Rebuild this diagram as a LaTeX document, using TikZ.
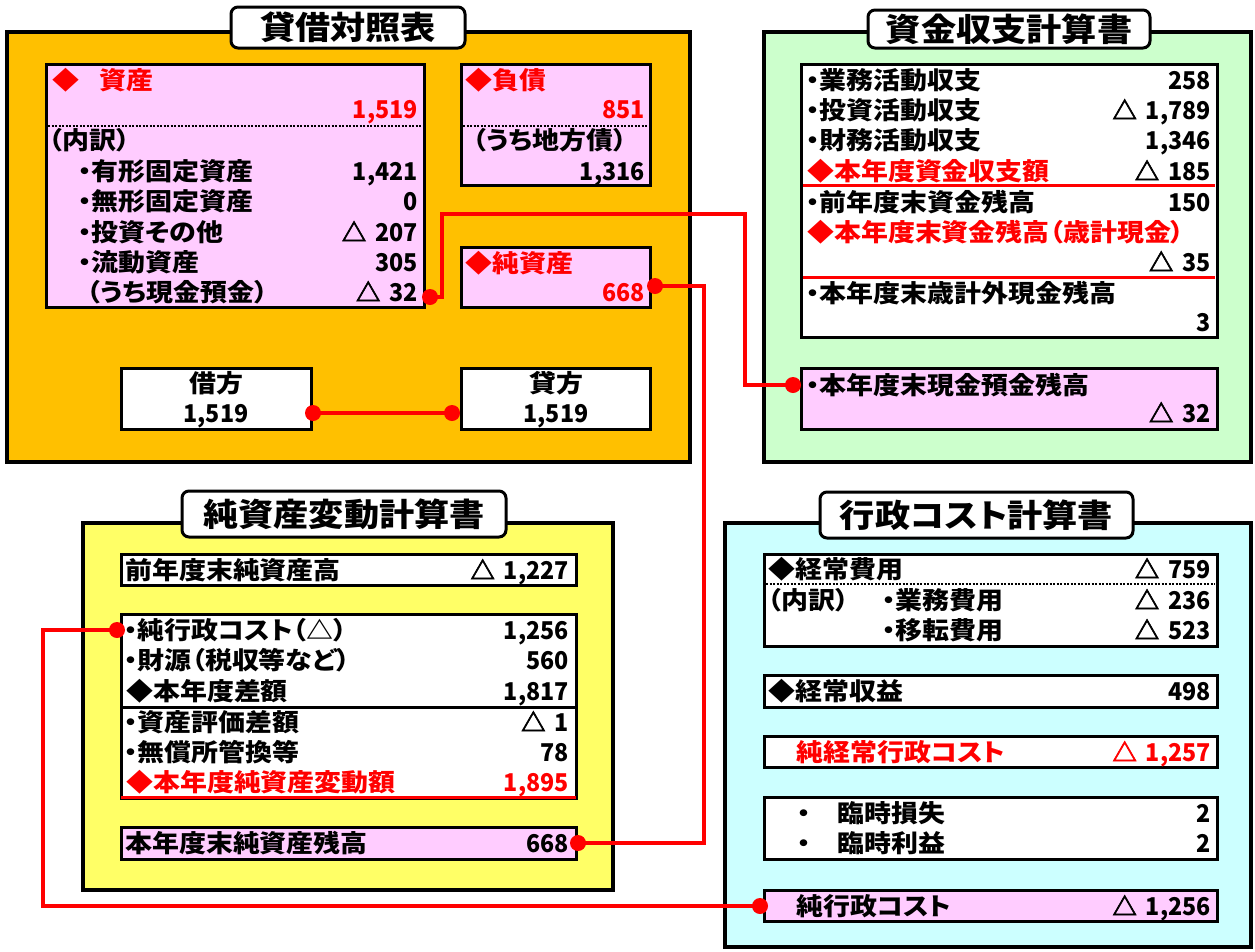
\documentclass[tikz,border=0pt]{standalone}
\usepackage{fontspec}
\newfontfamily\jp{Noto Sans CJK JP}[FakeStretch=1.1, RawFeature=+palt]
\newfontfamily\numf{Noto Sans CJK JP}[FakeStretch=0.95]
\newfontfamily\trifont{Noto Sans CJK JP}[FakeBold=2.5]
\newcommand{\dtri}{{\trifont △}\hspace{9pt}}
\definecolor{bsfill}{HTML}{FFC000}
\definecolor{pinkf}{HTML}{FFCCFF}
\definecolor{greenf}{HTML}{CCFFCC}
\definecolor{yellowf}{HTML}{FFFF66}
\definecolor{cyanf}{HTML}{CCFFFF}
\definecolor{redc}{HTML}{FF0000}
\tikzset{
 panel/.style={draw=black, line width=4.5pt, anchor=north west, inner sep=0pt, outer sep=0pt},
 box/.style={draw=black, line width=3pt, fill=white, anchor=north west, inner sep=0pt, outer sep=0pt},
 ttl/.style={draw=black, line width=3pt, fill=white, rounded corners=7pt, inner sep=0pt, font=\jp\bfseries\fontsize{32}{32}\selectfont},
 t/.style={inner sep=0pt, text height=21.6pt, text depth=2.9pt, font=\jp\bfseries\fontsize{24.5}{24.5}\selectfont},
 tn/.style={inner sep=0pt, text height=21.6pt, text depth=2.9pt, font=\numf\bfseries\fontsize{24.5}{24.5}\selectfont},
 tl/.style={t, anchor=west}, tr/.style={tn, anchor=east}, tc/.style={t, anchor=center}, tcn/.style={tn, anchor=center},
 rt/.style={text=redc},
 conn/.style={draw=redc, line width=4pt},
 dotline/.style={draw=black, line width=2pt, dash pattern=on 2pt off 1.5pt},
 redline/.style={draw=redc, line width=3pt},
 sepline/.style={draw=black, line width=3pt},
 dot/.style={circle, fill=redc, inner sep=0pt, minimum size=16pt},
}
\begin{document}
\begin{tikzpicture}[x=1pt, y=-1pt]
\useasboundingbox (0,0) rectangle (1255,951);
\fill[white] (0,0) rectangle (1255,951);
% ---------- panels ----------
\node[panel, fill=bsfill, minimum width=683, minimum height=430] (bs) at (7,32) {};
\node[panel, fill=greenf, minimum width=487, minimum height=430] (cf) at (764,32) {};
\node[panel, fill=yellowf, minimum width=530, minimum height=367] (na) at (83,523) {};
\node[panel, fill=cyanf, minimum width=526, minimum height=424] (pl) at (725,523) {};
% ---------- titles ----------
\node[ttl, minimum width=234, minimum height=41] (bst) at (348,27.5) {貸借対照表};
\node[ttl, minimum width=282, minimum height=38] (cft) at (1009,29) {資金収支計算書};
\node[ttl, minimum width=324, minimum height=46] (nat) at (344,514) {純資産変動計算書};
\node[ttl, minimum width=313, minimum height=46] (plt) at (976.5,515) {行政コスト計算書};
% ---------- BS boxes ----------
\node[box, fill=pinkf, minimum width=378, minimum height=243] (asset) at (46,64) {};
\node[box, fill=pinkf, minimum width=189, minimum height=121] (liab) at (461,64) {};
\node[box, fill=pinkf, minimum width=189, minimum height=60] (neta) at (461,247) {};
\node[box, minimum width=190, minimum height=61] (debit) at (121,368) {};
\node[box, minimum width=189, minimum height=61] (credit) at (461,368) {};
\draw[dotline] (48,126) -- (422,126);
\draw[dotline] (463,126) -- (648,126);
\node[tl, rt] (a1) at (52,80) {◆\hspace{20pt}資産};
\node[tr, rt] (a2) at (418,109) {1,519};
\node[tl] (a3) at (49,140) {（内訳）};
\node[tl] (a4) at (78,171) {・有形固定資産};
\node[tr] (a4v) at (418,171) {1,421};
\node[tl] (a5) at (78,201) {・無形固定資産};
\node[tr] (a5v) at (418,201) {0};
\node[tl] (a6) at (78,232) {・投資その他};
\node[tr] (a6v) at (418,232) {\dtri 207};
\node[tl] (a7) at (78,262) {・流動資産};
\node[tr] (a7v) at (418,262) {305};
\node[tl] (a8) at (87,292) {（うち現金預金）};
\node[tr] (a8v) at (418,292) {\dtri 32};
\node[tl, rt] (l1) at (465,80) {◆負債};
\node[tr, rt] (l2) at (645,109) {851};
\node[tl] (l3) at (473,140) {（うち地方債）};
\node[tr] (l4) at (645,171) {1,316};
\node[tl, rt] (n1) at (465,263) {◆純資産};
\node[tr, rt] (n2) at (645,292) {668};
\node[tc] (k1) at (216,383) {借方};
\node[tcn] (k2) at (216,413) {1,519};
\node[tc] (c1) at (556,383) {貸方};
\node[tcn] (c2) at (556,413) {1,519};
% ---------- CF boxes ----------
\node[box, minimum width=416, minimum height=273] (cfmain) at (801,64) {};
\node[box, fill=pinkf, minimum width=416, minimum height=61] (cfcash) at (801,368) {};
\draw[redline] (803,185) -- (1215,185);
\draw[redline] (803,277) -- (1215,277);
\node[tl] (f1) at (806,80) {・業務活動収支};
\node[tr] (f1v) at (1211,80) {258};
\node[tl] (f2) at (806,110) {・投資活動収支};
\node[tr] (f2v) at (1211,110) {\dtri 1,789};
\node[tl] (f3) at (806,140) {・財務活動収支};
\node[tr] (f3v) at (1211,140) {1,346};
\node[tl, rt] (f4) at (807,171) {◆本年度資金収支額};
\node[tr] (f4v) at (1211,171) {\dtri 185};
\node[tl] (f5) at (806,202) {・前年度末資金残高};
\node[tr] (f5v) at (1211,202) {150};
\node[tl, rt] (f6) at (807,232) {◆本年度末資金残高（歳計現金）};
\node[tr] (f6v) at (1211,262) {\dtri 35};
\node[tl] (f7) at (806,293) {・本年度末歳計外現金残高};
\node[tr] (f7v) at (1211,322) {3};
\node[tl] (f8) at (806,385) {・本年度末現金預金残高};
\node[tr] (f8v) at (1211,413) {\dtri 32};
% ---------- NA boxes ----------
\node[box, minimum width=455, minimum height=31] (napre) at (121,554) {};
\node[box, minimum width=455, minimum height=184] (namain) at (121,614) {};
\node[box, fill=pinkf, minimum width=455, minimum height=32] (naend) at (121,827) {};
\draw[sepline] (121,707) -- (576,707);
\draw[redline] (121,797) -- (576,797);
\node[tl] (m0) at (125,570) {前年度末純資産高};
\node[tr] (m0v) at (569,570) {\dtri 1,227};
\node[tl] (m1) at (124,630) {・純行政コスト（△）};
\node[tr] (m1v) at (569,630) {1,256};
\node[tl] (m2) at (124,660) {・財源（税収等など）};
\node[tr] (m2v) at (569,660) {560};
\node[tl] (m3) at (126,691) {◆本年度差額};
\node[tr] (m3v) at (569,691) {1,817};
\node[tl] (m4) at (124,722) {・資産評価差額};
\node[tr] (m4v) at (569,722) {\dtri 1};
\node[tl] (m5) at (124,752) {・無償所管換等};
\node[tr] (m5v) at (569,752) {78};
\node[tl, rt] (m6) at (126,782) {◆本年度純資産変動額};
\node[tr, rt] (m6v) at (569,782) {1,895};
\node[tl] (m7) at (125,843) {本年度末純資産残高};
\node[tr] (m7v) at (569,843) {668};
% ---------- PL boxes ----------
\node[box, minimum width=453, minimum height=92] (pl1) at (764,554) {};
\node[box, minimum width=453, minimum height=32] (pl2) at (764,675) {};
\node[box, minimum width=453, minimum height=31] (pl3) at (764,736) {};
\node[box, minimum width=453, minimum height=62] (pl4) at (764,797) {};
\node[box, fill=pinkf, minimum width=453, minimum height=31] (pl5) at (764,890) {};
\draw[dotline] (766,584) -- (1215,584);
\node[tl] (p1) at (768,569) {◆経常費用};
\node[tr] (p1v) at (1211,569) {\dtri 759};
\node[tl] (p2) at (768,600) {（内訳）};
\node[tl] (p3) at (882,600) {・業務費用};
\node[tr] (p3v) at (1211,600) {\dtri 236};
\node[tl] (p4) at (882,630) {・移転費用};
\node[tr] (p4v) at (1211,630) {\dtri 523};
\node[tl] (p5) at (768,691) {◆経常収益};
\node[tr] (p5v) at (1211,691) {498};
\node[tl, rt] (p6) at (796,752) {純経常行政コスト};
\node[tr, rt] (p6v) at (1211,752) {\dtri 1,257};
\node[tl] (p7) at (797,813) {・　臨時損失};
\node[tr] (p7v) at (1211,813) {2};
\node[tl] (p8) at (797,843) {・　臨時利益};
\node[tr] (p8v) at (1211,843) {2};
\node[tl] (p9) at (796,906) {純行政コスト};
\node[tr] (p9v) at (1211,906) {\dtri 1,256};
% ---------- connectors ----------
\node[dot] (dk) at (313,413) {};
\node[dot] (dc) at (452,413) {};
\node[dot] (dcash) at (430,297) {};
\node[dot] (dcf) at (793,385) {};
\node[dot] (dna) at (655,286) {};
\node[dot] (dnae) at (578,843) {};
\node[dot] (dpl) at (760,906) {};
\node[dot] (dnc) at (117,630) {};
\coordinate (b1) at (442,214);
\coordinate (b2) at (745,214);
\coordinate (b3) at (704,286);
\coordinate (b4) at (43,906);
\draw[conn] (dk.center) -- (dc.center);
\draw[conn] (dcash.center) -| (b1) -- (b2) |- (dcf.center);
\draw[conn] (dna.center) -- (b3) |- (dnae.center);
\draw[conn] (dpl.center) -- (b4) |- (dnc.center);
\end{tikzpicture}
\end{document}
